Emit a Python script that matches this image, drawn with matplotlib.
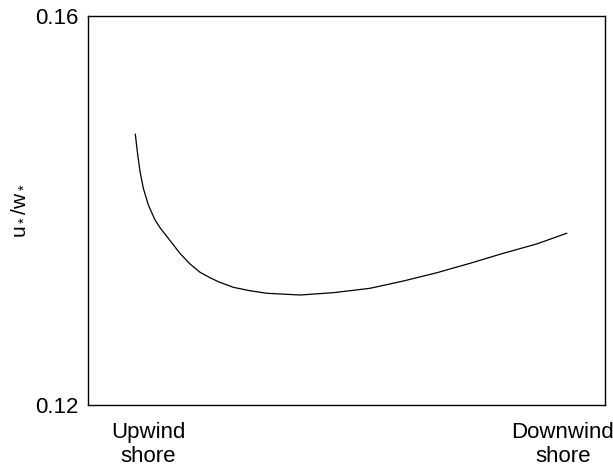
import matplotlib
matplotlib.use("Agg")
import matplotlib.pyplot as plt

plt.rcParams['font.family'] = ['Liberation Sans', 'DejaVu Sans']

# position across the lake (0 = upwind shore, 1 = downwind shore)
position = [0.0007, 0.0053, 0.0116, 0.0192, 0.0308, 0.0463, 0.0579, 0.0810,
            0.1042, 0.1273, 0.1505, 0.1736, 0.1928, 0.2275, 0.2662, 0.3049,
            0.3819, 0.4590, 0.5440, 0.6211, 0.6984, 0.7755, 0.8525, 0.9299,
            0.9993]
ratio = [0.14784, 0.14605, 0.14400, 0.14229, 0.14057, 0.13903, 0.13823, 0.13692,
         0.13558, 0.13450, 0.13365, 0.13309, 0.13268, 0.13210, 0.13175, 0.13149,
         0.13131, 0.13155, 0.13200, 0.13275, 0.13360, 0.13457, 0.13560, 0.13656,
         0.13766]

ytick_values = [0.12, 0.16]
ytick_labels = ['0.12', '0.16']
xtick_values = [0.03, 0.99]
xtick_labels = ['Upwind\nshore', 'Downwind\nshore']

fig = plt.figure(figsize=(6.13, 4.68), dpi=100)
ax = fig.add_axes([0.1436, 0.1346, 0.8434, 0.8312])

ax.plot(position, ratio, color='black', linewidth=0.9)

ax.set_xlim(-0.1088, 1.088)
ax.set_ylim(0.12, 0.16)
ax.set_yticks(ytick_values)
ax.set_yticklabels(ytick_labels)
ax.set_xticks(xtick_values)
ax.set_xticklabels(xtick_labels)
ax.tick_params(axis='both', length=0, labelsize=16)
ax.tick_params(axis='y', pad=7)
ax.tick_params(axis='x', pad=12)
for s in ax.spines.values():
    s.set_linewidth(1.0)

ax.set_ylabel(r'$\mathregular{u_*/w_*}$', fontsize=15, labelpad=6)

fig.savefig('out.png', dpi=100)
